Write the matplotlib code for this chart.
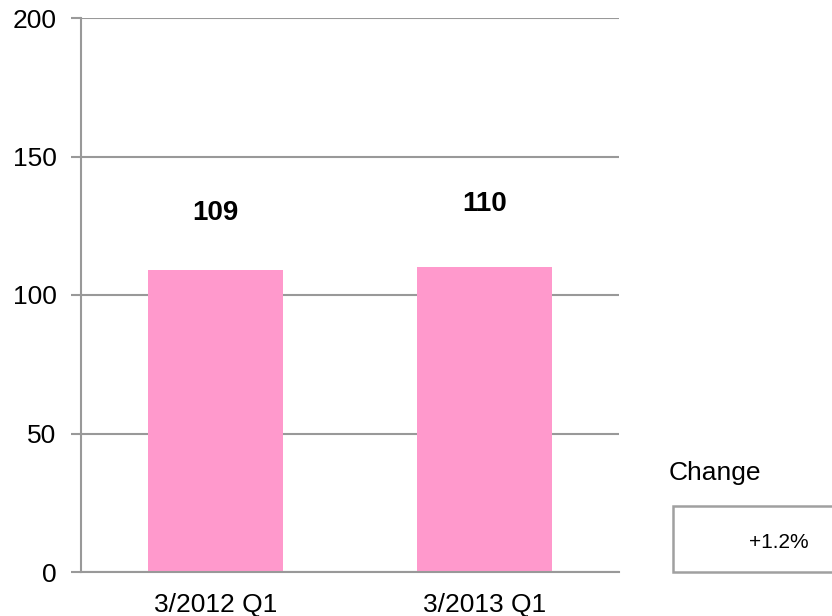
import matplotlib
matplotlib.use('Agg')
import matplotlib.pyplot as plt
from matplotlib.patches import Rectangle

plt.rcParams['font.family'] = ['Liberation Sans', 'DejaVu Sans']

periods = ['3/2012 Q1', '3/2013 Q1']
values = [109, 110]
change_label = '+1.2%'
yticks = [0, 50, 100, 150, 200]

bar_color = '#FF99CC'
grid_color = '#999999'

W, H = 832, 616
fig = plt.figure(figsize=(W / 100, H / 100), dpi=100)
ax = fig.add_axes([81 / W, 1 - 572 / H, (619 - 81) / W, (572 - 18) / H])

x = list(range(len(periods)))
ax.bar(x, values, width=0.5, color=bar_color, zorder=2)

# value labels above the bars
label_offsets = [57, 63]
for xi, v, off in zip(x, values, label_offsets):
    ax.annotate(str(v), (xi, v), xytext=(0, off * 0.72), textcoords='offset points',
                ha='center', va='center', fontsize=20, fontweight='bold')

ax.set_xlim(-0.5, 1.5)
ax.set_ylim(0, 200)
ax.set_yticks(yticks)
ax.set_xticks(x)
ax.set_xticklabels(periods)
ax.yaxis.grid(True, color=grid_color, linewidth=1.5, zorder=0)
ax.set_axisbelow(True)

for side in ['top', 'right']:
    ax.spines[side].set_visible(False)
for side in ['left', 'bottom']:
    ax.spines[side].set_color(grid_color)
    ax.spines[side].set_linewidth(1.5)

ax.tick_params(axis='y', length=7.2, width=1.5, color=grid_color, pad=10.5, labelsize=19)
ax.tick_params(axis='x', length=0, pad=15, labelsize=19)

# change box on the right
fig.text(669 / W, 1 - 473 / H, 'Change', fontsize=19, ha='left', va='center')
box = Rectangle((673 / W, 1 - 572 / H), (840 - 673) / W, (572 - 506) / H,
                transform=fig.transFigure, facecolor='white', edgecolor='#A0A0A0',
                linewidth=1.8, clip_on=False)
fig.patches.append(box)
fig.text(779 / W, 1 - 543 / H, change_label, fontsize=15, ha='center', va='center')

fig.savefig('out.png', dpi=100)
